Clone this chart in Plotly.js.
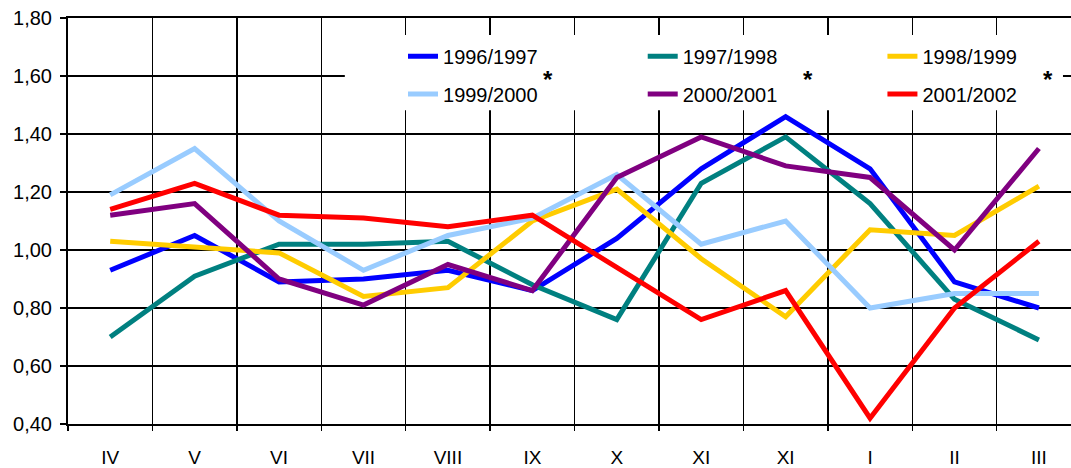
<!DOCTYPE html>
<html>
<head>
<meta charset="utf-8">
<script src="https://cdn.plot.ly/plotly-3.0.1.min.js"></script>
<style>html,body{margin:0;padding:0;background:#fff;}#chart{width:1071px;height:468px;}</style>
</head>
<body>
<div id="chart"></div>
<script>
// Category labels (note: XI appears twice in the original)
const months = ["IV", "V", "VI", "VII", "VIII", "IX", "X", "XI", "XI", "I", "II", "III"];
const seriesNames = ["1996/1997", "1997/1998", "1998/1999", "1999/2000", "2000/2001", "2001/2002"];
const s1996 = [0.93, 1.05, 0.89, 0.90, 0.93, 0.86, 1.04, 1.28, 1.46, 1.28, 0.89, 0.80];
const s1997 = [0.70, 0.91, 1.02, 1.02, 1.03, 0.88, 0.76, 1.23, 1.39, 1.16, 0.83, 0.69];
const s1998 = [1.03, 1.01, 0.99, 0.84, 0.87, 1.10, 1.21, 0.97, 0.77, 1.07, 1.05, 1.22];
const s1999 = [1.19, 1.35, 1.10, 0.93, 1.05, 1.11, 1.26, 1.02, 1.10, 0.80, 0.85, 0.85];
const s2000 = [1.12, 1.16, 0.90, 0.81, 0.95, 0.86, 1.25, 1.39, 1.29, 1.25, 1.00, 1.35];
const s2001 = [1.14, 1.23, 1.12, 1.11, 1.08, 1.12, 0.94, 0.76, 0.86, 0.42, 0.80, 1.03];
const yTicks = [0.4, 0.6, 0.8, 1.0, 1.2, 1.4, 1.6, 1.8];
const yTickText = ["0,40", "0,60", "0,80", "1,00", "1,20", "1,40", "1,60", "1,80"];

const allSeries = [s1996, s1997, s1998, s1999, s2000, s2001];
const colors = ["#0000FF", "#008080", "#FFCC00", "#99CCFF", "#800080", "#FF0000"];
const idx = months.map((m, i) => i);
const boundaries = months.map((m, i) => i - 0.5);

const FONT = "Liberation Sans, Arial, sans-serif";
const legendIds = ["legend", "legend2", "legend3", "legend4", "legend5", "legend6"];
const traces = allSeries.map((s, k) => ({
  type: "scatter", mode: "lines", x: idx, y: s, name: seriesNames[k],
  line: {color: colors[k], width: 5},
  xaxis: "x", yaxis: "y",
  legend: legendIds[k]
}));
traces.push({type: "scatter", mode: "lines", x: [boundaries[0], 11.38], y: [null, null],
  xaxis: "x2", yaxis: "y", showlegend: false, hoverinfo: "skip"});

const xr = [-0.5, 11.38];
const layout = {
  width: 1071, height: 468,
  margin: {l: 68, r: 0, t: 18, b: 44},
  paper_bgcolor: "#fff", plot_bgcolor: "#fff",
  font: {family: FONT, size: 20, color: "#000"},
  showlegend: true,
  xaxis: {
    type: "linear", range: xr, tickvals: idx, ticktext: months,
    ticks: "", showgrid: false, zeroline: false,
    showline: true, linecolor: "#000", linewidth: 2, mirror: true,
    tickfont: {family: FONT, size: 19, color: "#000"},
    ticklabelstandoff: 15
  },
  xaxis2: {
    type: "linear", range: xr, overlaying: "x", side: "bottom",
    tickvals: boundaries, showticklabels: false,
    ticks: "outside", ticklen: 6, tickwidth: 1.5, tickcolor: "#000",
    showgrid: true, gridcolor: "#000", gridwidth: 1.5,
    zeroline: false, showline: false
  },
  yaxis: {
    range: [0.4, 1.8], tickvals: yTicks, ticktext: yTickText,
    ticks: "outside", ticklen: 6, tickwidth: 1.5, tickcolor: "#000",
    showgrid: true, gridcolor: "#000", gridwidth: 1.5,
    zeroline: false, showline: true, linecolor: "#000", linewidth: 2,
    tickfont: {family: FONT, size: 20, color: "#000"},
    ticklabelstandoff: 4
  },
  shapes: [{
    type: "rect", xref: "paper", yref: "paper",
    x0: 0.276, x1: 0.992, y0: 0.773, y1: 0.958,
    fillcolor: "#fff", line: {width: 0}, layer: "above"
  }],
  annotations: [0.4786, 0.7378, 0.9771].map(px => ({
    xref: "paper", yref: "paper", x: px, y: 0.848, text: "<b>*</b>", showarrow: false,
    font: {family: FONT, size: 24, color: "#000"}, xanchor: "center", yanchor: "middle"
  }))
};
const legX = [0.334, 0.573, 0.812];
const legY = [0.906, 0.813];
legendIds.forEach((id, k) => {
  layout[id] = {
    orientation: "h", x: legX[k % 3], y: legY[Math.floor(k / 3)],
    xanchor: "left", yanchor: "middle",
    bgcolor: "rgba(0,0,0,0)", borderwidth: 0,
    font: {family: FONT, size: 20, color: "#000"}
  };
});

Plotly.newPlot("chart", traces, layout, {displayModeBar: false, staticPlot: true});
</script>
</body>
</html>
